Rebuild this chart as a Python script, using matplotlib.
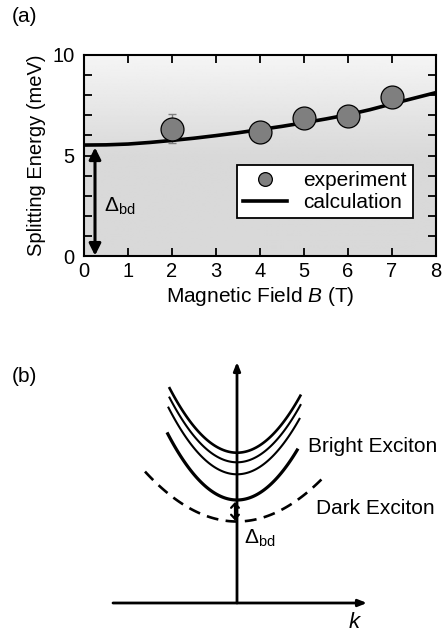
import numpy as np
import matplotlib
matplotlib.use("Agg")
import matplotlib.pyplot as plt

plt.rcParams['font.family'] = ['Liberation Sans', 'DejaVu Sans']
plt.rcParams['mathtext.fontset'] = 'custom'
plt.rcParams['mathtext.rm'] = 'Liberation Sans'
plt.rcParams['mathtext.it'] = 'Liberation Sans:italic'

# Measured splitting energies
field_exp = [2, 4, 5, 6, 7]
energy_exp = [6.33, 6.18, 6.88, 6.97, 7.93]
err_exp = [0.73, 0, 0, 0, 0]

# Calculated splitting energy
field_calc = [0, 0.5, 1, 1.5, 2, 2.5, 3, 3.5, 4, 4.5, 5, 5.5, 6, 6.5, 7, 7.5, 8]
energy_calc = [5.52, 5.53, 5.57, 5.65, 5.75, 5.86, 5.99, 6.13, 6.29, 6.45,
               6.63, 6.82, 7.03, 7.28, 7.57, 7.85, 8.13]

# Bright-dark gap at zero field
delta_bd = 5.4

# Schematic dispersion for panel (b): minima, curvature and k-range of each band
bright_min = [1.503, 1.407, 1.287, 1.03]
bright_curv = [1.42, 1.42, 1.42, 1.38]
bright_lw = [1.9, 1.5, 1.5, 2.3]
bright_kmin = [-0.68, -0.68, -0.69, -0.70]
bright_kmax = [0.64, 0.64, 0.63, 0.61]
dark_min = 0.815
dark_curv = 0.59
dark_krange = [-0.92, 0.87]

LINE_KW = dict(color='black', solid_capstyle='butt')


def draw_splitting(fig):
    ax = fig.add_axes([84 / 445, 1 - 256 / 633, 352 / 445, 201 / 633])

    # gray background, lighter towards the top
    yy = np.linspace(0, 10, 200)
    shade = np.where(yy < 5, 0.85, 0.85 + (yy - 5) / 5 * 0.11)
    ax.imshow(shade[:, None], extent=[0, 8, 0, 10], origin='lower',
              cmap='gray', vmin=0, vmax=1, aspect='auto', zorder=0)

    ax.plot(field_calc, energy_calc, color='black', lw=2.6, zorder=3,
            label='calculation')
    ax.errorbar(field_exp, energy_exp, yerr=err_exp, fmt='none', ecolor='#808080',
                elinewidth=1, capsize=3, capthick=1, zorder=2)
    ax.plot(field_exp, energy_exp, 'o', ms=16.5, mfc='#7f7f7f', mec='black',
            mew=0.9, zorder=4, label='experiment')

    ax.annotate('', xy=(0.25, 0.02), xytext=(0.25, delta_bd),
                arrowprops=dict(arrowstyle='<|-|>,head_length=0.7,head_width=0.35',
                                color='black', lw=2.2, shrinkA=0, shrinkB=0))
    ax.text(0.45, 2.45, r'$\Delta_{\mathrm{bd}}$', fontsize=15, va='center')

    ax.set_xlim(0, 8)
    ax.set_ylim(0, 10)
    ax.set_xticks(range(9))
    ax.set_yticks([0, 5, 10])
    ax.set_yticks(range(11), minor=True)
    ax.tick_params(which='both', direction='in', top=True, right=True,
                   length=6, width=1.3, labelsize=14.5)
    ax.tick_params(axis='x', pad=4)
    ax.tick_params(axis='y', pad=7)
    for sp in ax.spines.values():
        sp.set_linewidth(1.5)

    ax.set_xlabel(r'Magnetic Field $\mathit{B}$ (T)', fontsize=15, labelpad=3)
    ax.set_ylabel('Splitting Energy (meV)', fontsize=14.5, labelpad=4)

    h, l = ax.get_legend_handles_labels()
    leg = ax.legend(h[::-1], l[::-1], loc='lower right', bbox_to_anchor=(0.965, 0.135),
                    fontsize=15, fancybox=False, framealpha=1, edgecolor='black',
                    markerscale=0.6, handlelength=2.1, handletextpad=0.8,
                    borderpad=0.3, labelspacing=0.15)
    leg.get_frame().set_linewidth(1.3)


def draw_dispersion(fig):
    ax = fig.add_axes([0, 0, 1, 333 / 633])
    ax.set_xlim(-2.37, 2.08)
    ax.set_ylim(-0.30, 3.03)
    ax.axis('off')

    # energy and wavevector axes
    ax.annotate('', xy=(0, 2.41), xytext=(0, 0),
                arrowprops=dict(arrowstyle='-|>,head_length=0.5,head_width=0.2',
                                color='black', lw=2, shrinkA=0, shrinkB=0))
    ax.annotate('', xy=(1.30, 0), xytext=(-1.24, 0),
                arrowprops=dict(arrowstyle='-|>,head_length=0.5,head_width=0.2',
                                color='black', lw=2, shrinkA=0, shrinkB=0))

    for e0, c, lw, k0, k1 in zip(bright_min, bright_curv, bright_lw, bright_kmin, bright_kmax):
        k = np.linspace(k0, k1, 100)
        ax.plot(k, e0 + c * k ** 2, lw=lw, **LINE_KW)

    k = np.linspace(dark_krange[0], dark_krange[1], 100)
    ax.plot(k, dark_min + dark_curv * k ** 2, color='black', lw=1.9,
            dashes=(4.5, 2.8))

    # gap between bright and dark band minima
    ax.annotate('', xy=(-0.02, dark_min + 0.01), xytext=(-0.02, bright_min[-1] - 0.02),
                arrowprops=dict(arrowstyle='<->,head_length=0.3,head_width=0.28',
                                color='black', lw=1.6, shrinkA=0, shrinkB=0))
    ax.text(0.07, 0.65, r'$\Delta_{\mathrm{bd}}$', fontsize=15, va='center')

    ax.text(0.71, 1.56, 'Bright Exciton', fontsize=15, va='center')
    ax.text(0.79, 0.94, 'Dark Exciton', fontsize=15, va='center')
    ax.text(1.18, -0.19, r'$\mathit{k}$', fontsize=16, ha='center', va='center')


if __name__ == "__main__":
    fig = plt.figure(figsize=(4.45, 6.33), dpi=100)
    draw_splitting(fig)
    draw_dispersion(fig)

    fig.text(12 / 445, 1 - 16 / 633, '(a)', fontsize=15, va='center')
    fig.text(12 / 445, 1 - 377 / 633, '(b)', fontsize=15, va='center')

    fig.savefig("out.png", dpi=100)
    plt.close(fig)
